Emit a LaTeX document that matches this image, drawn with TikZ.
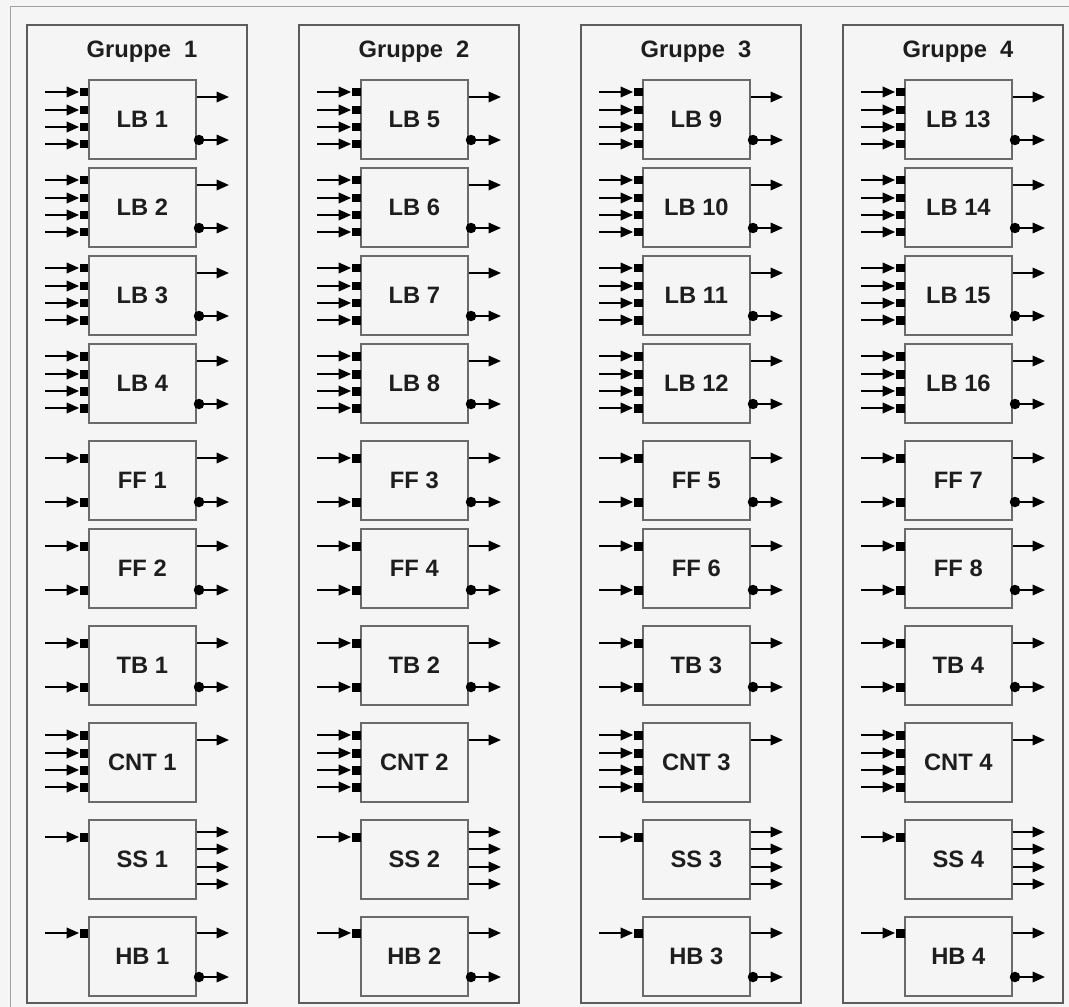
\documentclass[tikz,border=0pt]{standalone}
\usepackage{fontspec}
\setsansfont{Liberation Sans}
\usetikzlibrary{positioning, arrows.meta}
\definecolor{pagefill}{HTML}{F5F5F5}
\definecolor{outerframe}{HTML}{A0A0A0}
\definecolor{grpframe}{HTML}{5C5C5C}
\definecolor{cellframe}{HTML}{6A6A6A}
\definecolor{celltext}{HTML}{1E1E1E}
\newcommand{\cellfont}{\fontsize{13.5}{15}\selectfont\sffamily\bfseries}
\tikzset{
  cell/.style={
    draw=cellframe,
    line width=0.035cm,
    fill=pagefill,
    minimum width=2.14cm,
    minimum height=1.58cm,
    inner sep=0pt,
    font=\cellfont,
    text=celltext
  },
  grp/.style={draw=grpframe, line width=0.045cm},
  grptitle/.style={font=\cellfont, text=celltext, inner sep=0pt},
  portsq/.style={fill=black, minimum size=0.18cm, inner sep=0pt},
  portdot/.style={circle, fill=black, minimum size=0.21cm, inner sep=0pt},
  wire/.style={-{Triangle[length=0.25cm, width=0.21cm]}, line width=0.04cm}
}
% #1 name, #2 label, #3 group left, #4 top
\newcommand{\cellbox}[4]{\node[cell, anchor=north west] (#1) at ({#3+61}, {#4}) {#2};}
% #1 cell, #2 port, #3 group left, #4 y
\newcommand{\inwire}[4]{%
  \node[portsq] (#1-p#2) at ({#3+57}, {#4}) {};
  \coordinate (#1-i#2) at ({#3+18}, {#4});
  \draw[wire] (#1-i#2) -- (#1-p#2.west);}
\newcommand{\outwire}[4]{%
  \coordinate (#1-o#2) at ({#3+202}, {#4});
  \draw[wire] (#1.east |- #1-o#2) -- (#1-o#2);}
\newcommand{\outdot}[4]{%
  \node[portdot] (#1-d#2) at ({#3+172}, {#4}) {};
  \coordinate (#1-o#2) at ({#3+202}, {#4});
  \draw[wire] (#1-d#2.center) -- (#1-o#2);}

\begin{document}
\begin{tikzpicture}[x=0.02cm, y=-0.02cm]

  \fill[pagefill] (0,0) rectangle (1069,1007);
  \useasboundingbox (0,0) rectangle (1069,1007);
  \coordinate (framebl) at (10,1007);
  \coordinate (frametl) at (10,7);
  \coordinate (frametr) at (1069,7);
  \draw[outerframe, line width=0.02cm] (framebl) -- (frametl) -- (frametr);

  \foreach \g/\xl in {1/27, 2/299, 3/581, 4/843} {
    \coordinate (g\g-nw) at (\xl,25);
    \coordinate (g\g-se) at ({\xl+220},1003);
    \draw[grp] (g\g-nw) rectangle (g\g-se);
    \node[grptitle] (title\g) at ({\xl+115},52) {Gruppe~~\g};

    % logic blocks
    \foreach \k/\top in {1/79, 2/167, 3/255, 4/343} {
      \pgfmathtruncatemacro{\n}{4*(\g-1)+\k}
      \cellbox{lb\n}{LB \n}{\xl}{\top}
      \foreach \i/\dy in {1/13, 2/31, 3/48, 4/65} {\inwire{lb\n}{\i}{\xl}{\top+\dy}}
      \outwire{lb\n}{1}{\xl}{\top+18}
      \outdot{lb\n}{2}{\xl}{\top+61}
    }

    % flip-flops
    \foreach \k/\top in {1/440, 2/528} {
      \pgfmathtruncatemacro{\n}{2*(\g-1)+\k}
      \cellbox{ff\n}{FF \n}{\xl}{\top}
      \inwire{ff\n}{1}{\xl}{\top+18}
      \inwire{ff\n}{2}{\xl}{\top+62}
      \outwire{ff\n}{1}{\xl}{\top+18}
      \outdot{ff\n}{2}{\xl}{\top+62}
    }

    \cellbox{tb\g}{TB \g}{\xl}{625}
    \inwire{tb\g}{1}{\xl}{643}
    \inwire{tb\g}{2}{\xl}{687}
    \outwire{tb\g}{1}{\xl}{643}
    \outdot{tb\g}{2}{\xl}{687}

    \cellbox{cnt\g}{CNT \g}{\xl}{722}
    \foreach \i/\dy in {1/13, 2/31, 3/48, 4/65} {\inwire{cnt\g}{\i}{\xl}{722+\dy}}
    \outwire{cnt\g}{1}{\xl}{740}

    \cellbox{ss\g}{SS \g}{\xl}{819}
    \inwire{ss\g}{1}{\xl}{837}
    \foreach \i/\dy in {1/13, 2/30, 3/48, 4/65} {\outwire{ss\g}{\i}{\xl}{819+\dy}}

    \cellbox{hb\g}{HB \g}{\xl}{916}
    \inwire{hb\g}{1}{\xl}{933}
    \outwire{hb\g}{1}{\xl}{933}
    \outdot{hb\g}{2}{\xl}{977}
  }

\end{tikzpicture}
\end{document}
